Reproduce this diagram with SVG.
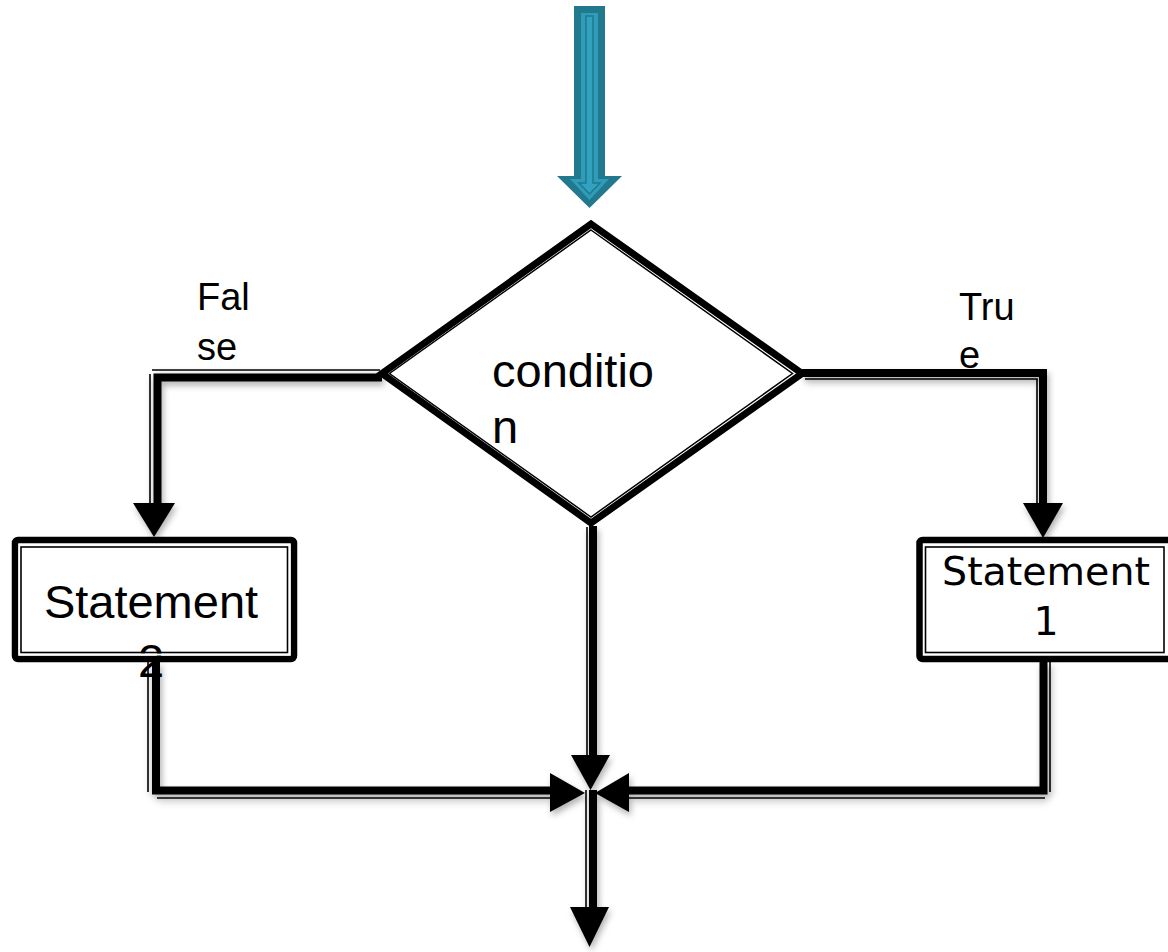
<svg xmlns="http://www.w3.org/2000/svg" width="1168" height="952" viewBox="0 0 1168 952">
  <style>
    .lbl { font-family: "Liberation Sans", Arial, sans-serif; fill: #000; }
    .big { font-size: 47px; }
    .small { font-size: 38px; }
    .stmt1 { font-family: "DejaVu Sans", "Noto Sans", sans-serif; font-size: 39.5px; fill: #000; }
    .thick { fill: none; stroke: #000; stroke-width: 8; stroke-linejoin: miter; }
    .thin { fill: none; stroke: #000; stroke-width: 1.6; }
    .gap { fill: none; stroke: #fff; stroke-width: 2; }
    .head { fill: #000; }
  </style>
  <defs>
    <filter id="soft-shadow" x="-10%" y="-10%" width="130%" height="130%">
      <feDropShadow dx="2" dy="4" stdDeviation="3" flood-color="#000" flood-opacity="0.3"/>
    </filter>
  </defs>

  <rect width="1168" height="952" fill="#fff"/>

  <!-- entry arrow -->
  <g id="entry-arrow">
    <polygon points="574,6 605,6 605,176 622,176 589.5,208 557,176 574,176" fill="#22788c"/>
    <polygon points="581,13 598,13 598,179 609,179 589.5,200 570,179 581,179" fill="#2e9dba"/>
    <polygon points="586,16 593,16 593,183 600,183 589.5,194 579,183 586,183" fill="#31a3c1" stroke="#23788d" stroke-width="1.5"/>
  </g>

  <!-- connectors -->
  <g id="connectors" filter="url(#soft-shadow)">
    <!-- false branch -->
    <path class="thick" d="M382,377.5 H157.5 V505"/>
    <path class="thin" d="M380,370 H152"/>
    <path class="thin" d="M150,374 V505"/>
    <polygon class="head" points="133,503 175,503 154,537"/>
    <!-- true branch -->
    <path class="thick" d="M802,373 H1043 V505"/>
    <path class="thin" d="M805,379 H1037 V505"/>
    <polygon class="head" points="1023,503 1063,503 1043,538"/>
    <!-- straight down from condition -->
    <path class="thick" d="M593,526 V757"/>
    <path class="thin" d="M587,527 V757"/>
    <polygon class="head" points="571,755 610,755 590.5,790"/>
    <!-- statement 2 to junction -->
    <path class="thick" d="M156,662 V790.5 H552"/>
    <path class="thin" d="M148,662 V792"/>
    <path class="thin" d="M157,798 H552"/>
    <polygon class="head" points="550,773 550,812 585,793"/>
    <!-- statement 1 to junction -->
    <path class="thick" d="M1043.5,662 V790.5 H627"/>
    <path class="thin" d="M1050,662 V792"/>
    <path class="thin" d="M1045,798 H627"/>
    <polygon class="head" points="629,773 629,812 595,793"/>
    <!-- exit -->
    <path class="thick" d="M593,790 V909"/>
    <path class="thin" d="M586,790 V909"/>
    <polygon class="head" points="570,907 609,907 589.5,947"/>
  </g>

  <!-- decision -->
  <g id="condition">
    <polygon points="591,224 802,373.5 591,523 382,373.5" fill="#fff" stroke="#000" stroke-width="7" stroke-linejoin="miter"/>
    <polygon points="591,230 792.5,373.5 591,517 389.5,373.5" fill="none" stroke="#000" stroke-width="1.5"/>
    <text class="lbl big" x="492" y="387">conditio</text>
    <text class="lbl big" x="492" y="443">n</text>
  </g>

  <!-- branch labels -->
  <g id="label-false">
    <text class="lbl small" x="197" y="310">Fal</text>
    <text class="lbl small" x="197" y="360">se</text>
  </g>
  <g id="label-true">
    <text class="lbl small" x="959" y="320">Tru</text>
    <text class="lbl small" x="959" y="368">e</text>
  </g>

  <!-- statement 2 (false branch) -->
  <g id="statement-2">
    <rect x="15" y="540" width="279" height="119" fill="#fff"/>
    <text class="lbl big" x="151" y="618" text-anchor="middle">Statement</text>
    <text class="lbl big" x="151" y="677" text-anchor="middle">2</text>
    <rect x="15" y="540" width="279" height="119" rx="3" fill="none" stroke="#000" stroke-width="6.5"/>
    <rect x="19.5" y="545" width="270" height="109.5" class="gap"/>
    <rect x="21" y="547" width="266.5" height="105.5" class="thin"/>
  </g>

  <!-- statement 1 (true branch) -->
  <g id="statement-1">
    <rect x="919.5" y="540" width="260" height="119" rx="3" fill="#fff" stroke="#000" stroke-width="6.5"/>
    <rect x="925.5" y="547" width="238.5" height="105.5" class="thin"/>
    <text class="stmt1" x="1046" y="585" text-anchor="middle">Statement</text>
    <text class="stmt1" x="1046" y="635" text-anchor="middle">1</text>
  </g>
</svg>
